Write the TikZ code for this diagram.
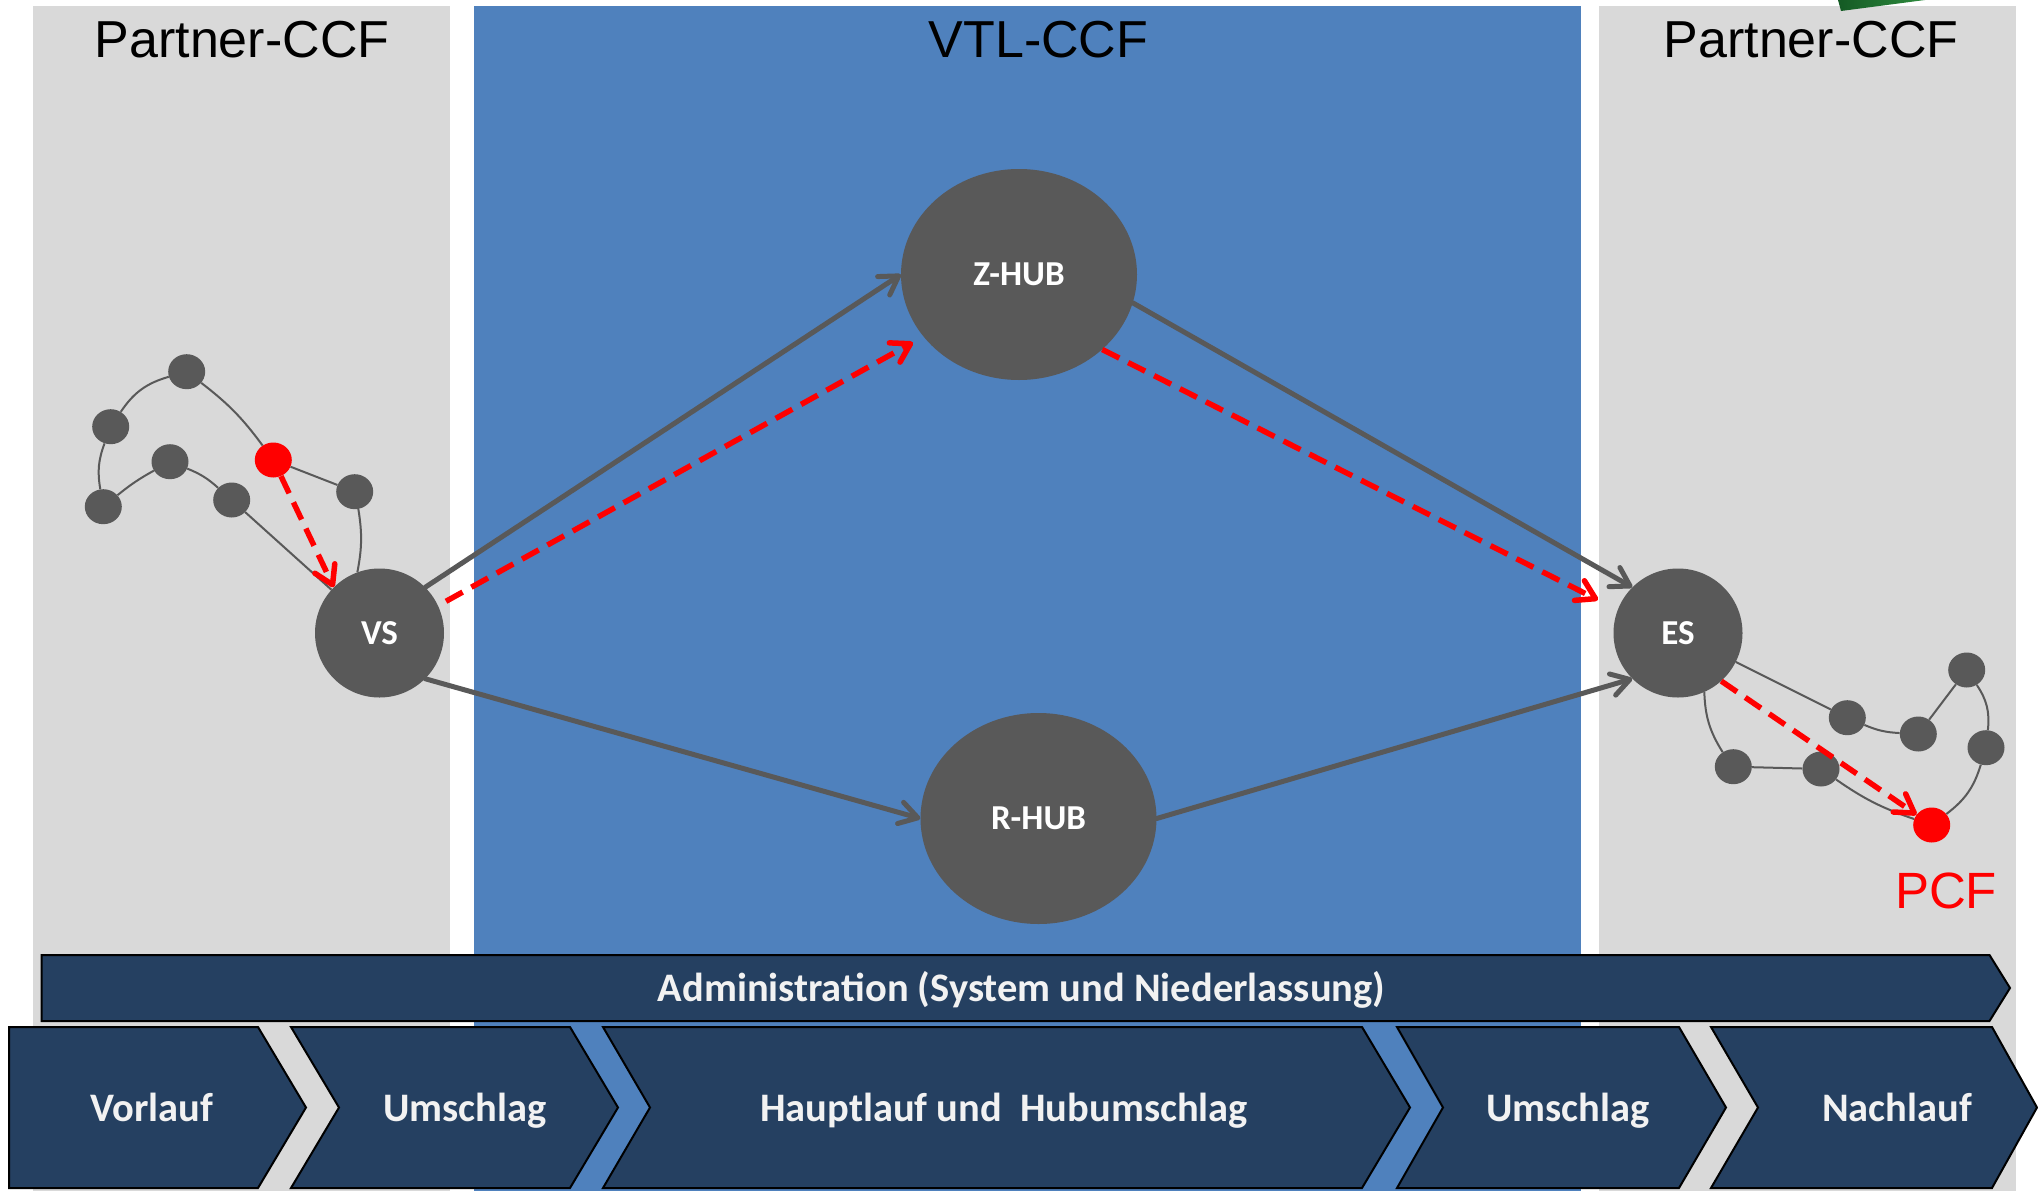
\documentclass[tikz,border=0pt]{standalone}
\usepackage{fontspec}
\setmainfont{Liberation Sans}
\newfontfamily\carlito{Carlito}
\usetikzlibrary{arrows.meta,shapes.geometric,calc}
\definecolor{panelgray}{HTML}{D9D9D9}
\definecolor{panelblue}{HTML}{4F81BD}
\definecolor{nodegray}{HTML}{595959}
\definecolor{navy}{HTML}{254061}
\definecolor{leafgreen}{HTML}{2E8B3E}
\definecolor{leafdark}{HTML}{145A24}
\begin{document}
\begin{tikzpicture}[x=1pt,y=-1pt,
  hub/.style={ellipse, fill=nodegray, minimum width=236pt, minimum height=211pt, inner sep=0pt, text=white, font=\carlito\bfseries\fontsize{35}{38}\selectfont},
  station/.style={circle, fill=nodegray, minimum size=129pt, inner sep=0pt, text=white, font=\carlito\bfseries\fontsize{35}{38}\selectfont},
  dot/.style={ellipse, fill=nodegray, minimum width=37pt, minimum height=35pt, inner sep=0pt},
  reddot/.style={dot, fill=red},
  link/.style={draw=nodegray, line width=2pt},
  flow/.style={draw=nodegray, line width=5pt, line cap=round, -{Straight Barb[length=18pt,width=22pt,round]}},
  redflow/.style={draw=red, line width=5.5pt, dash pattern=on 19pt off 10pt, -{Straight Barb[length=18pt,width=22pt,round]}},
  title/.style={font=\fontsize{52}{57}\selectfont, text=black, anchor=base},
  chev/.style={fill=navy, draw=black, line width=2pt, line join=miter},
  chevtext/.style={text=white!95!black, anchor=base, font=\carlito\bfseries\fontsize{40.5}{44}\selectfont}
]
\useasboundingbox (0,0) rectangle (2038,1191);
\fill[white] (0,0) rectangle (2038,1191);
% panels
\fill[panelgray] (33,6) rectangle (450,1191);
\fill[panelblue] (474,6) rectangle (1581,1191);
\fill[panelgray] (1599,6) rectangle (2016,1191);
\shade[left color=leafdark, right color=leafgreen] (1838,0) -- (1925,0) -- (1841,11) -- cycle;
% titles
\node[title] (t1) at (242,57) {Partner-CCF};
\node[title] (t2) at (1038.5,57) {VTL-CCF};
\node[title] (t3) at (1811,57) {Partner-CCF};
% main nodes
\node[station] (VS) at (379.5,633) {VS};
\node[station] (ES) at (1678,633) {ES};
\node[hub] (ZHUB) at (1019,274.5) {Z-HUB};
\node[hub] (RHUB) at (1038.5,818.5) {R-HUB};
% left cluster
\node[dot] (a1) at (186.7,371.7) {};
\node[dot] (a2) at (110.7,426.7) {};
\node[dot] (a3) at (170,461.7) {};
\node[dot] (a4) at (103.3,506.7) {};
\node[dot] (a5) at (231.7,500) {};
\node[reddot] (a6) at (273.3,460) {};
\node[dot] (a7) at (354.7,491.7) {};
\draw[link] (a2) to[bend left=20] (a1);
\draw[link] (a1) to[bend left=8] (a6);
\draw[link] (a6) -- (a7);
\draw[link] (a7) to[bend left=10] (VS.110);
\draw[link] (a2) to[bend right=15] (a4);
\draw[link] (a4) to[bend left=5] (a3);
\draw[link] (a3) to[bend left=10] (a5);
\draw[link] (a5) -- (VS);
\draw[redflow] (a6) -- (VS.north west);
% right cluster
\node[dot] (b1) at (1966.7,670) {};
\node[dot] (b2) at (1847.3,717.7) {};
\node[dot] (b3) at (1918.3,734) {};
\node[dot] (b4) at (1986,747.7) {};
\node[dot] (b5) at (1733.3,766.7) {};
\node[dot] (b6) at (1821,769) {};
\node[reddot] (PCF) at (1931.7,825) {};
\node[text=red, font=\fontsize{51}{56}\selectfont, anchor=base] (pcflabel) at (1946,908) {PCF};
\draw[link] (ES) -- (b2);
\draw[link] (b2) to[bend right=10] (b3);
\draw[link] (b3) -- (b1);
\draw[link] (b1) to[bend left=20] (b4);
\draw[link] (b4) to[bend left=18] (PCF);
\draw[link] (ES.-66) to[bend right=15] (b5);
\draw[link] (b5) -- (b6);
\draw[link] (b6) to[bend right=8] (PCF);
\draw[redflow] (ES.-48) -- (PCF);
% main flows
\draw[flow] (VS.north east) -- (ZHUB.west);
\draw[flow] (VS.south east) -- (RHUB.west);
\draw[flow] (ZHUB.-14) -- (ES.north west);
\draw[flow] (RHUB.east) -- (ES.south west);
\draw[redflow, shorten <=9pt, shorten >=12pt] (VS.25) -- (ZHUB.213);
\draw[redflow, shorten >=22pt] (ZHUB.-42) -- (ES.159);
% bottom bars
\draw[chev] (41.5,955) -- (1989.5,955) -- (2010,988) -- (1989.5,1021) -- (41.5,1021) -- cycle;
\node[chevtext] (admin) at (1021.5,1001) {Administration (System und Niederlassung)};
\draw[chev] (9,1027) -- (258,1027) -- (306,1107.5) -- (258,1188) -- (9,1188) -- cycle;
\draw[chev] (291,1027) -- (570,1027) -- (618,1107.5) -- (570,1188) -- (291,1188) -- (339,1107.5) -- cycle;
\draw[chev] (603,1027) -- (1362,1027) -- (1410,1107.5) -- (1362,1188) -- (603,1188) -- (650,1107.5) -- cycle;
\draw[chev] (1397,1027) -- (1679,1027) -- (1726,1107.5) -- (1679,1188) -- (1397,1188) -- (1443,1107.5) -- cycle;
\draw[chev] (1711,1027) -- (1992,1027) -- (2037,1107.5) -- (1992,1188) -- (1711,1188) -- (1758,1107.5) -- cycle;
\node[chevtext] (c1) at (152,1121) {Vorlauf};
\node[chevtext] (c2) at (465,1121) {Umschlag};
\node[chevtext] (c3) at (1004,1121) {Hauptlauf und~~Hubumschlag};
\node[chevtext] (c4) at (1568,1121) {Umschlag};
\node[chevtext] (c5) at (1897,1121) {Nachlauf};
\end{tikzpicture}
\end{document}
